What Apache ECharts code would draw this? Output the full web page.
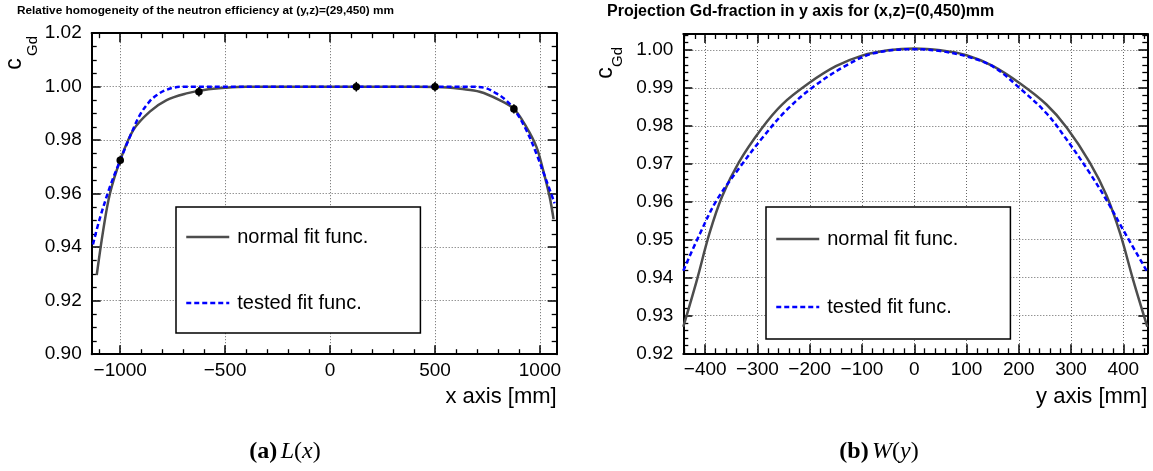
<!DOCTYPE html>
<html><head><meta charset="utf-8">
<script src="https://cdn.jsdelivr.net/npm/echarts@6/dist/echarts.min.js"></script>
<style>html,body{margin:0;padding:0;background:#fff}#c{width:1153px;height:471px}</style>
</head><body><div id="c"></div>
<script>
const FONT = '"Liberation Sans", Arial, Helvetica, sans-serif';
const SERIF = '"Liberation Serif", "DejaVu Serif", serif';

// ---------- Panel (a) ----------
const aTitle = 'Relative homogeneity of the neutron efficiency at (y,z)=(29,450) mm';
const aXName = 'x axis [mm]';
const aCaption = ['(a)', 'L', 'x'];
const aNormalX = [-1112, -1081, -1049, -1000, -938, -859, -779, -684, -600, -500, -400, 400, 500, 560, 620, 713, 808, 876, 935, 983, 1014, 1046, 1065];
const aNormalY = [0.9296, 0.9464, 0.9601, 0.9725, 0.9838, 0.9907, 0.9950, 0.9975, 0.9988, 0.9996, 1.0, 1.0, 0.9999, 0.9997, 0.9992, 0.9981, 0.9950, 0.9917, 0.9850, 0.9776, 0.9692, 0.9590, 0.9505];
const aTestedX = [-1130, -1100, -1049, -1000, -950, -906, -860, -827, -790, -748, -700, 680, 740, 792, 830, 876, 935, 983, 1030, 1070];
const aTestedY = [0.9410, 0.9500, 0.9626, 0.9725, 0.9820, 0.9895, 0.9945, 0.9968, 0.9985, 0.9996, 1.0, 1.0, 0.9995, 0.9975, 0.9955, 0.9917, 0.9838, 0.9750, 0.9651, 0.9564];
const aPointX = [-1000, -625, 125, 500, 876];
const aPointY = [0.9725, 0.9981, 1.0, 1.0, 0.9917];
const aPointErr = [0.0017, 0.0018, 0.0018, 0.0018, 0.0017];
const aXRange = [-1136, 1080];
const aYRange = [0.90, 1.02];

// ---------- Panel (b) ----------
const bTitle = 'Projection Gd-fraction in y axis for (x,z)=(0,450)mm';
const bXName = 'y axis [mm]';
const bCaption = ['(b)', 'W', 'y'];
const bNormalX = [-442, -416, -392, -368, -336, -292, -253, -202, -150, -100, -50, 0, 50, 100, 150, 202, 253, 292, 336, 368, 394, 419, 446];
const bNormalY = [0.9270, 0.9393, 0.9516, 0.9613, 0.9703, 0.9793, 0.9856, 0.9912, 0.9957, 0.9985, 0.9999, 1.0004, 0.9999, 0.9986, 0.9958, 0.9912, 0.9856, 0.9795, 0.9703, 0.9616, 0.9516, 0.9393, 0.9270];
const bTestedX = [-442, -410, -378, -333, -289, -244, -193, -129, -78, 0, 50, 100, 151, 202, 253, 292, 336, 368, 400, 446];
const bTestedY = [0.9418, 0.9516, 0.9604, 0.9692, 0.9771, 0.9842, 0.9903, 0.9960, 0.9991, 1.0002, 0.9997, 0.9983, 0.9956, 0.9899, 0.9833, 0.9763, 0.9675, 0.9604, 0.9525, 0.9415];
const bXRange = [-442, 446];
const bYRange = [0.92, 1.0042];

const legendNames = ['normal fit func.', 'tested fit func.'];
const yLabelName = ['c', 'Gd'];

const zip = (xs, ys) => xs.map((x, i) => [x, ys[i]]);
const fmtX = v => (v < 0 ? '\u2212' + Math.abs(v) : String(v));
const fmtY = v => v.toFixed(2);

function xAxes(g, range, split, minorSplit) {
  const common = {
    type: 'value', gridIndex: g, min: range[0], max: range[1], splitNumber: split,
    axisLine: { show: true, onZero: false, lineStyle: { color: '#000', width: 2 } },
    axisTick: { show: true, inside: true, length: 9, lineStyle: { color: '#000', width: 1.5 } },
    minorTick: { show: true, splitNumber: minorSplit, length: 5, lineStyle: { color: '#000', width: 1.3 } }
  };
  return [
    Object.assign({}, common, {
      position: 'bottom',
      axisLabel: { show: true, showMinLabel: false, showMaxLabel: false, formatter: fmtX, color: '#000', fontSize: 19, fontFamily: FONT, margin: 7 },
      splitLine: { show: true, lineStyle: { color: '#666', width: 1, type: [1, 2] } }
    }),
    Object.assign({}, common, {
      position: 'top',
      axisLabel: { show: false }, splitLine: { show: false }
    })
  ];
}
function yAxes(g, range, interval, minorSplit, showMax) {
  const common = {
    type: 'value', gridIndex: g, min: range[0], max: range[1], interval: interval,
    axisLine: { show: true, onZero: false, lineStyle: { color: '#000', width: 2 } },
    axisTick: { show: true, inside: true, length: 9, lineStyle: { color: '#000', width: 1.5 } },
    minorTick: { show: true, splitNumber: minorSplit, length: 5, lineStyle: { color: '#000', width: 1.3 } }
  };
  return [
    Object.assign({}, common, {
      position: 'left',
      axisLabel: { show: true, showMaxLabel: showMax, formatter: fmtY, color: '#000', fontSize: 19, fontFamily: FONT, margin: 10 },
      splitLine: { show: true, lineStyle: { color: '#666', width: 1, type: [1, 2] } }
    }),
    Object.assign({}, common, {
      position: 'right',
      axisLabel: { show: false }, splitLine: { show: false }
    })
  ];
}

function lineSeries(name, xi, yi, xs, ys, blue) {
  return {
    type: 'line', name: name, xAxisIndex: xi, yAxisIndex: yi,
    data: zip(xs, ys), symbol: 'none', showSymbol: false, smooth: 0.35,
    lineStyle: blue ? { color: '#0000ff', width: 2.5, type: [5, 3] } : { color: '#4d4d4d', width: 2.5 },
    itemStyle: { color: blue ? '#0000ff' : '#4d4d4d' },
    z: blue ? 4 : 3, animation: false
  };
}

function legendCfg(left, top, gap, padV) {
  return {
    data: legendNames, left: left, top: top, orient: 'vertical',
    backgroundColor: '#fff', borderColor: '#000', borderWidth: 1.5, borderRadius: 0,
    padding: [padV, 52, padV, 9], itemGap: gap, itemWidth: 43, itemHeight: 14,
    selectedMode: false,
    itemStyle: { color: 'rgba(0,0,0,0)', borderWidth: 0 },
    lineStyle: { width: 2.5 },
    textStyle: { fontSize: 20, fontFamily: FONT, color: '#000', padding: [0, 0, 0, 3] }
  };
}

function caption(cx, parts) {
  return {
    type: 'text', x: cx, y: 452,
    style: {
      text: '{b|' + parts[0] + '} {i|' + parts[1] + '}{n|(}{i|' + parts[2] + '}{n|)}',
      align: 'center', verticalAlign: 'middle',
      rich: {
        b: { fontFamily: SERIF, fontWeight: 'bold', fontSize: 24, fill: '#000' },
        i: { fontFamily: SERIF, fontStyle: 'italic', fontSize: 24, fill: '#000' },
        n: { fontFamily: SERIF, fontSize: 24, fill: '#000' }
      }
    }
  };
}
function yName(cx, cy, sx, sy) {
  return [
    { type: 'text', x: cx, y: cy, rotation: Math.PI / 2,
      style: { text: yLabelName[0], fontFamily: FONT, fontSize: 23, fill: '#000', align: 'center', verticalAlign: 'middle' } },
    { type: 'text', x: sx, y: sy, rotation: Math.PI / 2,
      style: { text: yLabelName[1], fontFamily: FONT, fontSize: 15, fill: '#000', align: 'center', verticalAlign: 'middle' } }
  ];
}

const chart = echarts.init(document.getElementById('c'), null, { renderer: 'canvas' });
const option = {
  animation: false,
  backgroundColor: '#fff',
  grid: [
    { left: 91.7, top: 33.2, width: 465, height: 321 },
    { left: 683.3, top: 34, width: 464, height: 319.3 }
  ],
  xAxis: [].concat(xAxes(0, aXRange, 5, 5), xAxes(1, bXRange, 8, 5)),
  yAxis: [].concat(yAxes(0, aYRange, 0.02, 4, true), yAxes(1, bYRange, 0.01, 5, false)),
  legend: [legendCfg(176, 207, 46, 20), legendCfg(766, 207, 48, 22)],
  series: [
    lineSeries(legendNames[0], 0, 0, aNormalX, aNormalY, false),
    lineSeries(legendNames[1], 0, 0, aTestedX, aTestedY, true),
    {
      type: 'custom', name: 'data', xAxisIndex: 0, yAxisIndex: 0, z: 5,
      data: aPointX.map((x, i) => [x, aPointY[i], aPointErr[i]]),
      renderItem: function (params, api) {
        const x = api.value(0), y = api.value(1), e = api.value(2);
        const p = api.coord([x, y]);
        const lo = api.coord([x, y - e]);
        const hi = api.coord([x, y + e]);
        return {
          type: 'group', children: [
            { type: 'line', shape: { x1: lo[0], y1: lo[1], x2: hi[0], y2: hi[1] }, style: { stroke: '#000', lineWidth: 1.5 } },
            { type: 'circle', shape: { cx: p[0], cy: p[1], r: 3.8 }, style: { fill: '#000' } }
          ]
        };
      }
    },
    lineSeries(legendNames[0], 2, 2, bNormalX, bNormalY, false),
    lineSeries(legendNames[1], 2, 2, bTestedX, bTestedY, true)
  ],
  graphic: [
    { type: 'text', x: 17, y: 11, style: { text: aTitle, fontFamily: FONT, fontWeight: 'bold', fontSize: 11.8, fill: '#000', verticalAlign: 'middle' } },
    { type: 'text', x: 607, y: 12, style: { text: bTitle, fontFamily: FONT, fontWeight: 'bold', fontSize: 16, fill: '#000', verticalAlign: 'middle' } },
    { type: 'text', x: 556.7, y: 397, style: { text: aXName, fontFamily: FONT, fontSize: 22, fill: '#000', align: 'right', verticalAlign: 'middle' } },
    { type: 'text', x: 1147.3, y: 397, style: { text: bXName, fontFamily: FONT, fontSize: 22, fill: '#000', align: 'right', verticalAlign: 'middle' } },
    caption(285, aCaption),
    caption(879, bCaption)
  ].concat(yName(15, 64, 33, 46), yName(606, 73, 618, 57))
};
chart.setOption(option);
</script>
</body></html>
